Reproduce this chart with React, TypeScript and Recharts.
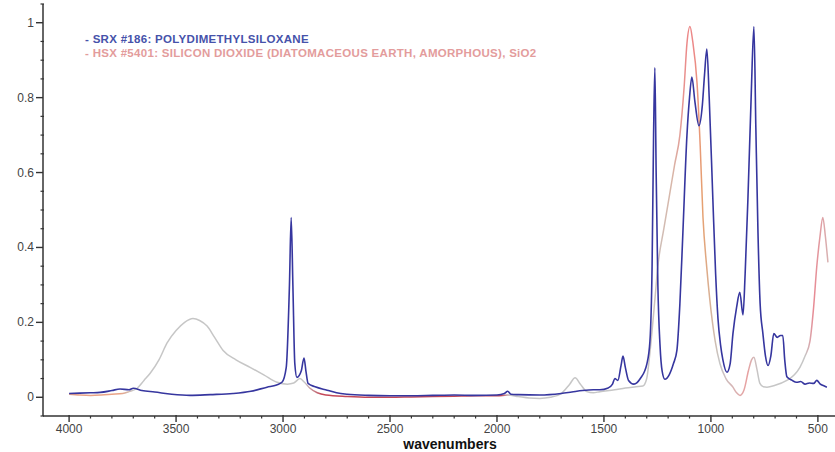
import { LineChart, Line, XAxis, YAxis } from 'recharts'

// PDMS spectrum (SRX #186)
const pdmsName = 'SRX #186: POLYDIMETHYLSILOXANE'
const pdmsWn = [
  4000, 3950, 3900, 3855, 3800, 3762, 3720, 3700, 3660, 3600, 3520, 3435, 3340, 3234, 3150, 3075,
  3030, 3005, 2985, 2970, 2962, 2954, 2945, 2935, 2915, 2902, 2893, 2883, 2850, 2794, 2750, 2700,
  2600, 2500, 2400, 2300, 2200, 2100, 2000, 1965, 1950, 1935, 1900, 1800, 1700, 1650, 1600, 1550,
  1519, 1480, 1460, 1449, 1435, 1420, 1411, 1400, 1385, 1360, 1330, 1299, 1285, 1275, 1268, 1262,
  1256, 1248, 1238, 1228, 1215, 1195, 1175, 1159, 1145, 1131, 1112, 1100, 1089, 1075, 1056, 1040,
  1030, 1019, 1008, 991, 978, 967, 955, 944, 925, 910, 897, 880, 865, 850, 840, 827, 812, 799, 790,
  780, 770, 757, 745, 733, 720, 706, 690, 675, 664, 655, 645, 620, 600, 580, 560, 540, 520, 505,
  490, 470, 458,
]
const pdmsAbs = [
  0.01, 0.011, 0.012, 0.013, 0.018, 0.022, 0.02, 0.024, 0.018, 0.014, 0.008, 0.005, 0.007, 0.01,
  0.016, 0.027, 0.033, 0.04, 0.08, 0.3, 0.48, 0.3, 0.09, 0.053, 0.07, 0.105, 0.07, 0.037, 0.028,
  0.019, 0.012, 0.008, 0.005, 0.004, 0.004, 0.005, 0.006, 0.005, 0.006, 0.01, 0.016, 0.008, 0.007,
  0.006, 0.01, 0.014, 0.018, 0.02, 0.02, 0.025, 0.035, 0.05, 0.045, 0.085, 0.11, 0.08, 0.045, 0.035,
  0.05, 0.09, 0.15, 0.35, 0.7, 0.88, 0.6, 0.3, 0.14, 0.07, 0.048, 0.06, 0.09, 0.125, 0.25, 0.44,
  0.7, 0.8, 0.855, 0.79, 0.725, 0.78, 0.86, 0.93, 0.8, 0.53, 0.33, 0.21, 0.14, 0.1, 0.067, 0.09,
  0.17, 0.24, 0.28, 0.22, 0.33, 0.53, 0.8, 0.99, 0.72, 0.44, 0.25, 0.17, 0.11, 0.085, 0.11, 0.17,
  0.16, 0.165, 0.165, 0.1, 0.055, 0.045, 0.04, 0.042, 0.035, 0.038, 0.037, 0.045, 0.036, 0.03,
  0.027,
]

// diatomaceous earth spectrum (HSX #5401)
const silicaName = 'HSX #5401: SILICON DIOXIDE (DIATOMACEOUS EARTH, AMORPHOUS), SiO2'
const silicaWn = [
  4000, 3950, 3900, 3850, 3800, 3750, 3720, 3682, 3650, 3621, 3580, 3542, 3500, 3460, 3421, 3390,
  3355, 3320, 3280, 3220, 3154, 3090, 3028, 2980, 2950, 2921, 2900, 2874, 2840, 2800, 2700, 2600,
  2500, 2400, 2300, 2200, 2100, 2000, 1950, 1900, 1850, 1800, 1750, 1700, 1660, 1635, 1610, 1580,
  1550, 1519, 1450, 1400, 1350, 1318, 1300, 1285, 1262, 1248, 1220, 1192, 1170, 1145, 1125, 1112,
  1098, 1085, 1065, 1050, 1037, 1020, 1005, 980, 958, 930, 897, 880, 864, 845, 825, 810, 799, 785,
  771, 755, 738, 700, 645, 610, 584, 560, 537, 520, 505, 490, 477, 465, 453,
]
const silicaAbs = [
  0.008, 0.006, 0.005, 0.006, 0.008, 0.01, 0.015, 0.024, 0.045, 0.064, 0.1, 0.145, 0.178, 0.2,
  0.21, 0.205, 0.19, 0.16, 0.125, 0.1, 0.08, 0.06, 0.04, 0.035, 0.038, 0.05, 0.04, 0.024, 0.012,
  0.006, 0.002, 0, 0, 0.001, 0.002, 0.003, 0.004, 0.004, 0.006, 0.002, -0.002, -0.003, 0, 0.01,
  0.035, 0.052, 0.035, 0.015, 0.012, 0.015, 0.02, 0.025, 0.028, 0.03, 0.05, 0.12, 0.26, 0.35, 0.45,
  0.545, 0.62, 0.7, 0.83, 0.945, 0.99, 0.95, 0.84, 0.67, 0.48, 0.35, 0.26, 0.15, 0.09, 0.05, 0.027,
  0.012, 0.005, 0.02, 0.07, 0.1, 0.107, 0.075, 0.037, 0.028, 0.027, 0.032, 0.045, 0.06, 0.08, 0.11,
  0.15, 0.24, 0.35, 0.43, 0.48, 0.43, 0.36,
]

const xMajorTicks = [4000, 3500, 3000, 2500, 2000, 1500, 1000, 500]
const yMajorTicks = [0, 0.2, 0.4, 0.6, 0.8, 1]

const xTicks: number[] = []
for (let t = 500; t <= 4000; t += 100) xTicks.push(t)
const yTicks: number[] = []
for (let i = -1; i <= 21; i++) yTicks.push(Math.round(i * 5) / 100)

const pdmsData = pdmsWn.map((wn, i) => ({ wn, abs: pdmsAbs[i] }))
const silicaData = silicaWn.map((wn, i) => ({ wn, abs: silicaAbs[i] }))

// colour bands along the silica trace, keyed by wavenumber
const silicaStops: [number, string][] = [
  [4000, '#e9a386'],
  [3760, '#e9a386'],
  [3700, '#c6c6c6'],
  [2900, '#c6c6c6'],
  [2820, '#c44858'],
  [1980, '#c44858'],
  [1940, '#c6c6c6'],
  [1300, '#c6c6c6'],
  [1180, '#d8b6a8'],
  [1110, '#ec8888'],
  [1080, '#ec8888'],
  [1040, '#e6a070'],
  [960, '#c6c6c6'],
  [830, '#e8a0a0'],
  [780, '#c6c6c6'],
  [560, '#c6c6c6'],
  [520, '#e88a94'],
  [453, '#d8b0b0'],
]

const font = 'Arial, "Liberation Sans", sans-serif'
const axisColor = '#333'

const XTick = (props: any) => {
  const { x, y, payload } = props
  const major = xMajorTicks.includes(payload.value)
  return (
    <g>
      <line x1={x} x2={x} y1={y - (major ? 1 : 0)} y2={y + (major ? 6 : 2.5)} stroke={axisColor} strokeWidth={major ? 1.4 : 1.2} />
      {major && (
        <text x={x} y={y + 17} textAnchor="middle" fontSize={12} fontFamily={font} fill="#444">
          {payload.value}
        </text>
      )}
    </g>
  )
}

const YTick = (props: any) => {
  const { x, y, payload } = props
  const major = yMajorTicks.some((t) => Math.abs(t - payload.value) < 1e-6)
  return (
    <g>
      <line x1={x - (major ? 7 : 2.5)} x2={x + (major ? 0 : 1)} y1={y} y2={y} stroke={axisColor} strokeWidth={major ? 1.4 : 1.2} />
      {major && (
        <text x={x - 9} y={y + 4} textAnchor="end" fontSize={12} fontFamily={font} fill="#444">
          {String(payload.value)}
        </text>
      )}
    </g>
  )
}

const legendItems = [
  { name: pdmsName, color: '#4652aa' },
  { name: silicaName, color: '#e39c9c' },
]

export default function App() {
  const wnHi = silicaWn[0]
  const wnLo = silicaWn[silicaWn.length - 1]
  return (
    <div style={{ position: 'absolute', left: 0, top: 0, width: 835, height: 452, background: '#fff' }}>
      <LineChart width={835} height={452} margin={{ top: 4, right: 0, bottom: 0, left: 0 }}>
        <defs>
          <linearGradient id="silicaGrad" x1="0" y1="0" x2="1" y2="0">
            {silicaStops.map(([wn, c], i) => (
              <stop key={i} offset={(wnHi - wn) / (wnHi - wnLo)} stopColor={c} />
            ))}
          </linearGradient>
        </defs>
        <XAxis
          type="number"
          dataKey="wn"
          domain={[420, 4122]}
          reversed
          allowDataOverflow
          ticks={xTicks}
          interval={0}
          tick={<XTick />}
          tickLine={false}
          tickSize={0}
          tickMargin={0}
          height={36}
          axisLine={{ stroke: axisColor, strokeWidth: 1.5 }}
          label={{
            value: 'wavenumbers',
            position: 'insideBottom',
            offset: 3,
            dx: 11,
            style: { fontFamily: font, fontSize: 14, fontWeight: 'bold', fill: '#111' },
          }}
        />
        <YAxis
          type="number"
          domain={[-0.05, 1.05]}
          allowDataOverflow
          ticks={yTicks}
          interval={0}
          tick={<YTick />}
          tickLine={false}
          tickSize={0}
          tickMargin={0}
          width={43}
          axisLine={{ stroke: axisColor, strokeWidth: 1.5 }}
        />
        <Line
          data={silicaData}
          dataKey="abs"
          name={silicaName}
          type="monotone"
          stroke="url(#silicaGrad)"
          strokeWidth={1.5}
          dot={false}
          isAnimationActive={false}
        />
        <Line
          data={pdmsData}
          dataKey="abs"
          name={pdmsName}
          type="monotone"
          stroke="#36369f"
          strokeWidth={1.6}
          dot={false}
          isAnimationActive={false}
        />
      </LineChart>
      <div
        style={{
          position: 'absolute',
          left: 85,
          top: 33,
          fontFamily: font,
          fontSize: 11.5,
          fontWeight: 'bold',
          letterSpacing: 0.3,
          lineHeight: '13.5px',
        }}
      >
        {legendItems.map((item) => (
          <div key={item.name} style={{ color: item.color, whiteSpace: 'nowrap' }}>
            - {item.name}
          </div>
        ))}
      </div>
    </div>
  )
}
